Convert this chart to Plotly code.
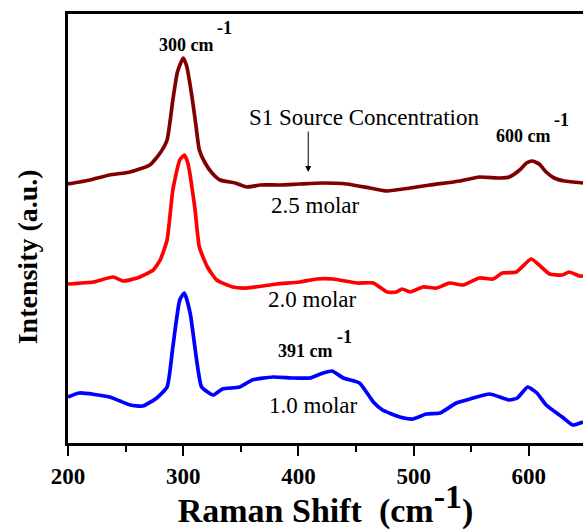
import plotly.graph_objects as go

# Raman shift (cm^-1) and offset intensities (a.u.)
x_25 = [200, 219, 236, 254, 271, 280, 286, 291, 295, 300, 303, 306, 308, 311, 314, 319, 325, 332,
        345, 355, 367, 384, 401, 421, 442, 462, 477, 497, 514, 540, 557, 575, 583, 592, 598, 603,
        609, 615, 622, 631, 647]
y_25 = [259, 263, 268, 271, 278, 290, 303, 343, 371, 385, 377, 358, 343, 318, 293, 280, 270, 263,
        260, 256, 258, 258, 259, 260, 259, 255, 252, 255, 258, 262, 266, 265, 266, 273, 280, 282,
        279, 271, 265, 262, 260]

x_20 = [200, 222, 239, 248, 260, 274, 280, 286, 291, 297, 301, 304, 310, 314, 321, 329, 343, 355,
        381, 401, 416, 430, 451, 465, 477, 485, 490, 497, 508, 520, 531, 543, 557, 569, 577, 589,
        602, 609, 618, 629, 635, 644, 647]
y_20 = [159, 161, 166, 162, 165, 173, 183, 203, 253, 283, 288, 280, 236, 196, 176, 163, 156, 155,
        159, 161, 164, 164, 160, 160, 151, 151, 154, 151, 156, 155, 160, 158, 165, 164, 170, 171,
        184, 178, 169, 168, 171, 167, 167]

x_10 = [200, 210, 236, 245, 254, 265, 277, 286, 291, 297, 301, 306, 312, 316, 326, 334, 349, 360,
        378, 395, 410, 419, 429, 439, 453, 465, 473, 488, 499, 511, 523, 537, 549, 566, 583, 590,
        599, 607, 615, 629, 638, 647]
y_10 = [46, 50, 46, 42, 38, 37, 45, 56, 96, 143, 150, 130, 80, 56, 48, 54, 56, 63,
        66, 65, 65, 69, 72, 65, 60, 41, 33, 26, 24, 29, 30, 40, 44, 49, 43, 45,
        56, 50, 38, 26, 18, 21]

x_ticks = [200, 300, 400, 500, 600]

series = [
    ("2.5 molar", x_25, y_25, "#800000"),
    ("2.0 molar", x_20, y_20, "#ff0000"),
    ("1.0 molar", x_10, y_10, "#0000ff"),
]

FONT = "Liberation Serif, Times New Roman, serif"

fig = go.Figure()
for name, xs, ys, col in series:
    fig.add_trace(go.Scatter(x=xs, y=ys, mode="lines", name=name,
                             line=dict(color=col, width=3.7, shape="spline", smoothing=0.5),
                             showlegend=False))

def txt(x, y, s, size, bold=False):
    fig.add_annotation(x=x, y=y, xref="x", yref="y", text=(f"<b>{s}</b>" if bold else s),
                       showarrow=False, font=dict(family=FONT, size=size, color="black"))

# peak labels: "cm" part and raised "-1" part
txt(302, 398, "300 cm", 18, True)
txt(336, 415, "-1", 18, True)
txt(595, 307, "600 cm", 18, True)
txt(628, 323, "-1", 18, True)
txt(406, 92, "391 cm", 18, True)
txt(440, 106, "-1", 18, True)

txt(457, 326, "S1 Source Concentration", 23)
txt(414, 238, "2.5 molar", 23)
txt(412, 144, "2.0 molar", 23)
txt(413, 38, "1.0 molar", 23)

fig.add_annotation(x=408.5, y=271, ax=408.5, ay=313, xref="x", yref="y", axref="x", ayref="y",
                   text="", showarrow=True, arrowhead=2, arrowsize=1.2, arrowwidth=1,
                   arrowcolor="black")

# y-axis title
fig.add_annotation(x=-0.079, y=186, xref="paper", yref="y", text="<b>Intensity (a.u.)</b>",
                   textangle=-90, showarrow=False, xanchor="center", yanchor="middle",
                   font=dict(family=FONT, size=28, color="black"))

fig.update_layout(
    width=583, height=530,
    margin=dict(l=68, r=0, t=14, b=87),
    paper_bgcolor="white", plot_bgcolor="white",
    font=dict(family=FONT, color="black"),
    xaxis=dict(range=[200, 647], tickvals=x_ticks, ticktext=[f"<b>{v}</b>" for v in x_ticks],
               tickfont=dict(family=FONT, size=23, color="black"),
               showline=True, linecolor="black", linewidth=3, mirror=True,
               ticks="outside", ticklen=10, tickwidth=2, tickcolor="black",
               minor=dict(tickvals=[250, 350, 450, 550], ticks="outside", ticklen=6,
                          tickwidth=2, tickcolor="black"),
               showgrid=False, zeroline=False,
               title=dict(text="<b>Raman Shift  (cm<sup><span style='font-size:34px'>-1</span></sup>)</b>",
                          font=dict(family=FONT, size=34, color="black"), standoff=4)),
    yaxis=dict(range=[0, 429], showticklabels=False, ticks="", showgrid=False, zeroline=False,
               showline=True, linecolor="black", linewidth=3),
)

fig.write_html("out.html")
